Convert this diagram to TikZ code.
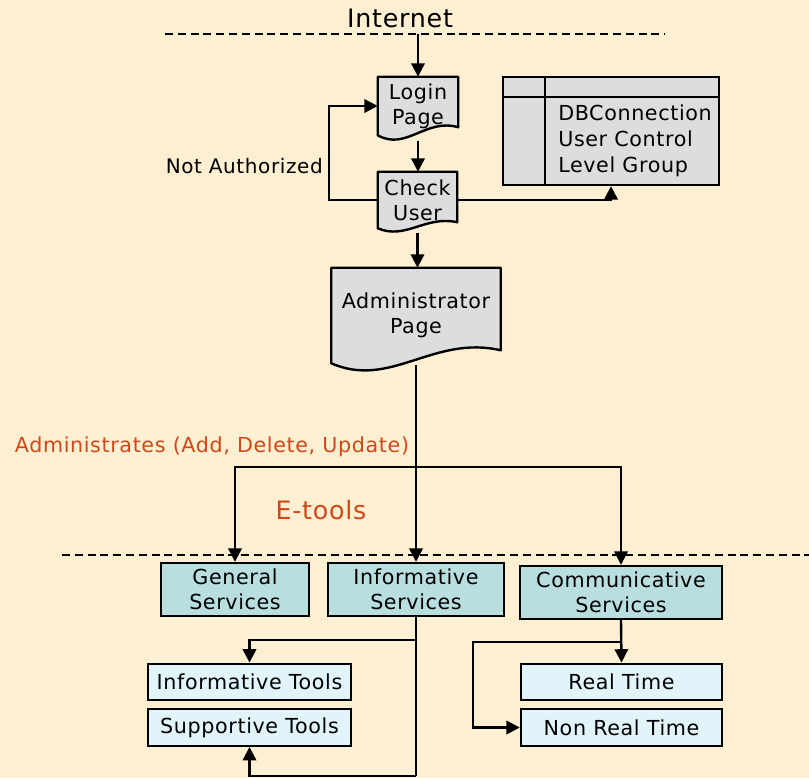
\documentclass[tikz,border=0pt]{standalone}
\usepackage{fontspec}
\setmainfont{DejaVu Sans}[LetterSpace=3]
\usetikzlibrary{calc,arrows.meta,backgrounds}

\definecolor{paper}{RGB}{252,239,210}
\definecolor{docgray}{RGB}{221,221,221}
\definecolor{svcteal}{RGB}{184,222,224}
\definecolor{toolblue}{RGB}{224,244,250}
\definecolor{rust}{RGB}{208,72,24}

\pgfdeclarelayer{paperlayer}
\pgfsetlayers{paperlayer,background,main}

% document symbol with a wavy lower edge; #1 node name, #2 rise of the right end
\newcommand{\wavydoc}[2]{%
  \begin{scope}[on background layer]
  \draw[line width=1.8pt, fill=docgray, line join=round]
    (#1.north west) -- (#1.north east) -- ($(#1.south east)+(0,-#2)$)
    .. controls ($(#1.south west)!0.6!(#1.south east)+(0,-2.2*#2)$)
           and ($(#1.south west)!0.35!(#1.south east)+(0,2*#2)$) ..
    (#1.south west) -- cycle;
  \end{scope}}

\begin{document}
\begin{tikzpicture}[x=0.75pt, y=-0.75pt,
    every node/.style={font=\fontsize{15.5pt}{18.8pt}\selectfont, inner sep=0pt},
    doc/.style={rectangle, align=center},
    svc/.style={rectangle, draw, line width=1.8pt, fill=svcteal, align=center, minimum height=39.75pt},
    tool/.style={rectangle, draw, line width=1.8pt, fill=toolblue, minimum height=27.4pt},
    link/.style={line width=1.8pt},
    arr/.style={line width=1.8pt, -{Triangle[length=10pt, width=10pt]}},
    sep/.style={line width=1.1pt, dash pattern=on 6pt off 3.6pt},
    big/.style={font=\fontsize{19pt}{22pt}\selectfont},
    note/.style={text=rust}]

  % page
  \begin{pgfonlayer}{paperlayer}
    \fill[paper] (0,0) rectangle (809,778);
  \end{pgfonlayer}
  \useasboundingbox (0,0) rectangle (809,778);

  % tier separators
  \draw[sep] (165,34) -- (665,34);
  \draw[sep] (62,555) -- (809,555);

  \node[big] (internet) at (400,18) {Internet};
  \coordinate (netdrop) at (418,34);

  % login chain
  \node[doc, minimum width=60pt, minimum height=43.5pt] (login) at (418,106) {Login\\Page};
  \wavydoc{login}{8}

  \node[doc, minimum width=59.25pt, minimum height=42pt] (check) at (417.5,200) {Check\\User};
  \wavydoc{check}{6}

  \node[doc, minimum width=126.75pt, minimum height=71.25pt] (admin) at (416,315.5) {Administrator\\Page};
  \wavydoc{admin}{13}

  % user database table
  \node[rectangle, draw, line width=1.8pt, fill=docgray, minimum width=162pt, minimum height=81pt] (db) at (611,131) {};
  \draw[line width=1.8pt] ($(db.north west)+(0,21)$) -- ($(db.north east)+(0,21)$);
  \draw[line width=1.8pt] ($(db.north west)+(43,0)$) -- ($(db.south west)+(43,0)$);
  \node[anchor=west, align=left, font=\fontsize{15.5pt}{19.5pt}\selectfont] (dbtext) at (558,141) {DBConnection\\User Control\\Level Group};

  \draw[arr] (netdrop) -- (login.north);
  \draw[arr] ($(login.south)+(0,6)$) -- (login.south |- check.north);
  \coordinate (naknee) at (329,200);
  \draw[arr] (check.west) -- (naknee) |- (login.west);
  \node[anchor=east, font=\fontsize{15pt}{18pt}\selectfont] (na) at (323,166) {Not Authorized};
  \draw[arr] (check.east) -| (db.south);
  \draw[arr] ($(check.south)+(0,5)$) -- (check.south |- admin.north);

  % services
  \node[svc, minimum width=111pt] (gen) at (235,589.5) {General\\Services};
  \node[svc, minimum width=132pt] (info) at (416,589.5) {Informative\\Services};
  \node[svc, minimum width=151.5pt] (comm) at (621,592.5) {Communicative\\Services};

  \coordinate (split) at (416,467);
  \draw[link] ($(admin.south)+(0,2)$) -- (split);
  \draw[arr] (split) -- (info.north);
  \draw[arr] (split) -| (gen.north);
  \draw[arr] (split) -| (comm.north);

  \node[note] (adm) at (212,447) {Administrates (Add, Delete, Update)};
  \node[note, big] (etools) at (321,510) {E-tools};

  % tools
  \node[tool, minimum width=152.25pt] (itools) at (249.5,682) {Informative Tools};
  \node[tool, minimum width=152.25pt] (stools) at (249.5,727.5) {Supportive Tools};
  \node[tool, minimum width=150.75pt] (rt) at (621.5,682) {Real Time};
  \node[tool, minimum width=150.75pt] (nrt) at (621.5,727.5) {Non Real Time};

  \coordinate (infobranch) at (416,640);
  \coordinate (infobase) at (416,776);
  \draw[link] (info.south) -- (infobase);
  \draw[arr] (infobranch) -| (itools.north);
  \draw[arr] (infobase) -| (stools.south);

  \coordinate (commknee) at (473,642);
  \draw[arr] (comm.south) -- (rt.north);
  \draw[arr] (comm.south |- commknee) -- (commknee) |- (nrt.west);
\end{tikzpicture}
\end{document}
